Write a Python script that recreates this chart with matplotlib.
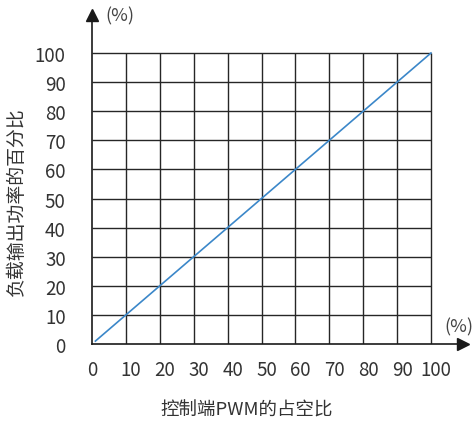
import matplotlib.pyplot as plt
import matplotlib.transforms as mtransforms
import numpy as np

plt.rcParams['font.family'] = ['Noto Sans CJK SC', 'DejaVu Sans']

# 数据
duty = [1, 100]          # 控制端PWM的占空比 (%)
power = [1, 100]         # 负载输出功率的百分比 (%)
ticks = list(range(0, 101, 10))
tick_labels = [str(t) for t in ticks]

x_max, y_max = 109.5, 113
px_x, px_y = 3.39, 2.91   # 每单位像素

fig = plt.figure(figsize=(4.75, 4.27), dpi=100)
ax = fig.add_axes([92 / 475, 82 / 427, x_max * px_x / 475, y_max * px_y / 427])

# 网格
grid_color = '#262626'
ax.hlines(ticks[1:], 0, 100, color=grid_color, lw=1.0)
ax.vlines(ticks[1:], 0, 100, color=grid_color, lw=1.0)

# 曲线
ax.plot(duty, power, color='#3b87c9', lw=1.2)

# 坐标轴
for s in ['top', 'right']:
    ax.spines[s].set_visible(False)
for s in ['left', 'bottom']:
    ax.spines[s].set_color('#1a1a1a')
    ax.spines[s].set_linewidth(1.2)
ax.set_xlim(0, x_max)
ax.set_ylim(0, y_max)
ax.plot(x_max, 0, marker='>', ms=9, color='#1a1a1a', clip_on=False)
ax.plot(0, y_max, marker='^', ms=9, color='#1a1a1a', clip_on=False)

ax.set_xticks(ticks)
ax.set_xticklabels(tick_labels)
ax.set_yticks(ticks)
ax.set_yticklabels(tick_labels)
ax.tick_params(axis='both', length=0, labelsize=13.5, colors='#333333')
ax.tick_params(axis='x', pad=11)
ax.tick_params(axis='y', pad=19)

# 横轴标签略向右偏（与原图一致）
shift = mtransforms.ScaledTranslation(5 / 100, 0, fig.dpi_scale_trans)
for lbl in ax.get_xticklabels()[1:]:
    lbl.set_transform(lbl.get_transform() + shift)

ax.text(3.8, y_max, '(%)', fontsize=13, color='#444444', va='center', ha='left')
ax.text(104, 6.2, '(%)', fontsize=13, color='#444444', va='center', ha='left')

fig.text(247 / 475, 1 - 411 / 427, '控制端PWM的占空比', fontsize=13.3,
         ha='center', va='center', color='#333333')
fig.text(16 / 475, 1 - 202 / 427, '负载输出功率的百分比', fontsize=13.6,
         ha='center', va='center', rotation=90, color='#333333')

fig.savefig('out.png', dpi=100)
